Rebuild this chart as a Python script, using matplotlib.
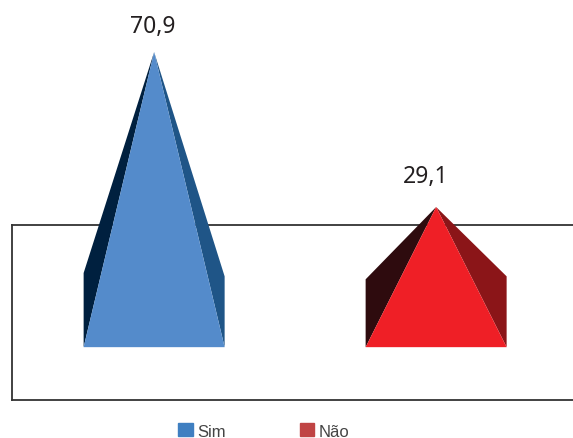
import matplotlib
matplotlib.use("Agg")
import matplotlib.pyplot as plt
from matplotlib.patches import Patch, Polygon

categories = ["Sim", "Não"]
values = [70.9, 29.1]
labels = ["70,9", "29,1"]

front_colors = ["#548BCB", "#EF1F26"]
left_colors = ["#00203F", "#2E0B0E"]
right_colors = ["#1F5587", "#8B1518"]
legend_colors = ["#3F7FC1", "#C04444"]

floor = -8.7      # front edge of the 3d floor
shoulder_l = [20.0, 18.3]   # back corners above the floor
shoulder_r = [19.1, 19.1]
half = 0.25
label_dx = [-1, -10]
label_dy = [14, 19]

fig = plt.figure(figsize=(5.73, 4.39), dpi=100)
ax = fig.add_axes([12 / 573, 38 / 439, 564 / 573, 175 / 439])
ax.set_xlim(-0.504, 1.496)
ax.set_ylim(-22.95, 24.25)
ax.set_xticks([])
ax.set_yticks([])
for s in ax.spines.values():
    s.set_color("#333333")
    s.set_linewidth(1.3)

for i in range(len(values)):
    v = values[i]
    base = [(i - half, floor), (i + half, floor)]
    back_l = (i - half, floor + shoulder_l[i])
    back_r = (i + half, floor + shoulder_r[i])
    top = (i, v)
    ax.add_patch(Polygon([base[0], back_l, top], color=left_colors[i], lw=0, clip_on=False, zorder=3))
    ax.add_patch(Polygon([base[1], back_r, top], color=right_colors[i], lw=0, clip_on=False, zorder=3))
    ax.add_patch(Polygon([base[0], base[1], top], color=front_colors[i], lw=0, clip_on=False, zorder=4))
    ax.annotate(labels[i], (i, v), xytext=(label_dx[i], label_dy[i]), textcoords="offset pixels", ha="center", va="bottom",
                fontsize=16.5, family="Noto Sans", color="#231F20", annotation_clip=False)

handles = [Patch(color=legend_colors[i], label=categories[i]) for i in range(2)]
fig.legend(handles=handles, ncol=2, loc="center", bbox_to_anchor=(264 / 573, 7 / 439), frameon=False,
           prop={"family": "Liberation Sans", "size": 12}, labelcolor="#444444",
           handlelength=0.85, handleheight=0.8, handletextpad=0.3, columnspacing=4.4, borderpad=0)

fig.savefig("out.png", dpi=100)
